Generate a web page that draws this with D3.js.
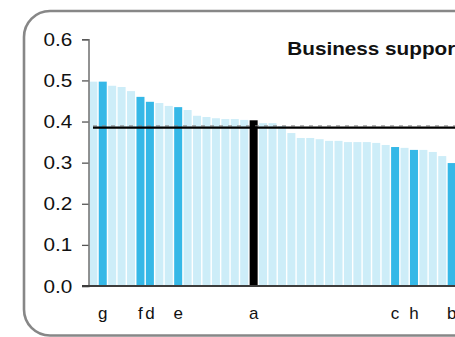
<!DOCTYPE html>
<html><head><meta charset="utf-8">
<script src="https://cdn.jsdelivr.net/npm/d3@7"></script>
<style>html,body{margin:0;padding:0;background:#fff;overflow:hidden}</style>
</head><body><svg id="c" width="455" height="337"></svg>
<script>
// ---- data ----
const categories = d3.range(39).map(i => "r" + i);
const values = [0.497,0.497,0.487,0.484,0.474,0.460,0.448,0.445,0.438,0.435,
                0.428,0.414,0.411,0.408,0.406,0.406,0.404,0.403,0.396,0.396,
                0.389,0.372,0.360,0.360,0.357,0.353,0.353,0.350,0.350,0.350,
                0.348,0.343,0.338,0.336,0.331,0.331,0.326,0.316,0.299];
const kinds = ["l","d","l","l","l","d","d","l","l","d",
               "l","l","l","l","l","l","l","k","l","l",
               "l","l","l","l","l","l","l","l","l","l",
               "l","l","d","l","d","l","l","l","d"];
const barLabels = ["","g","","","","f","d","","","e",
                   "","","","","","","","a","","",
                   "","","","","","","","","","",
                   "","","c","","h","","","","b"];
const yTicks = [0,0.1,0.2,0.3,0.4,0.5,0.6];
const refValue = 0.386;
const title = "Business support services";

// ---- drawing ----
const svg = d3.select("#c");
const colors = {l:"#cdedf8", d:"#35b8e7", k:"#000000"};
const x = d3.scaleBand().domain(categories).range([88.6, 456.4]).paddingInner(0.15).paddingOuter(0.075);
const y = d3.scaleLinear().domain([0, 0.6]).range([286, 39.3]);
const sx = 1.12;

// border
svg.append("rect").attr("x",24).attr("y",11).attr("width",520).attr("height",324.5)
  .attr("rx",26).attr("ry",26).attr("fill","none").attr("stroke","#878787").attr("stroke-width",2.6);

// bars
svg.append("g").selectAll("rect").data(categories).join("rect")
  .attr("x", d => x(d)).attr("width", x.bandwidth())
  .attr("y", (d,i) => y(values[i])).attr("height", (d,i) => y(0) - y(values[i]))
  .attr("fill", (d,i) => colors[kinds[i]]);

// y axis
const ya = svg.append("g").attr("transform","translate(88.5,0)")
  .call(d3.axisLeft(y).tickValues(yTicks).tickFormat(d3.format(".1f")).tickSize(6.5).tickPadding(10));
ya.select(".domain").attr("stroke","#6f6f6f").attr("stroke-width",1.5);
ya.selectAll(".tick line").attr("stroke","#555").attr("stroke-width",1.3);
ya.selectAll(".tick text").attr("font-family","'Liberation Sans', Arial, sans-serif")
  .attr("font-size","18.5px").attr("fill","#111").attr("dy",null)
  .attr("x", -16.3/sx).attr("y", 6).attr("transform", `scale(${sx},1)`);

// x axis baseline
svg.append("line").attr("x1",82).attr("x2",455).attr("y1",y(0)).attr("y2",y(0))
  .attr("stroke","#3d3d3d").attr("stroke-width",2);

// reference line
svg.append("line").attr("x1",93).attr("x2",455).attr("y1",y(refValue)-1.4).attr("y2",y(refValue)-1.4)
  .attr("stroke","#8a8a8a").attr("stroke-width",1).attr("stroke-dasharray","4,5");
svg.append("line").attr("x1",93).attr("x2",455).attr("y1",y(refValue)+0.3).attr("y2",y(refValue)+0.3)
  .attr("stroke","#000").attr("stroke-width",2.4);

// bar labels
svg.append("g").selectAll("text").data(categories).join("text")
  .attr("x", d => x(d) + x.bandwidth()/2).attr("y", 319)
  .attr("text-anchor","middle").attr("font-family","'Liberation Sans', Arial, sans-serif")
  .attr("font-size","17px").attr("fill","#111")
  .text((d,i) => barLabels[i]);

// title
svg.append("text").attr("transform",`translate(287.3,55) scale(${sx},1)`)
  .attr("font-family","'Liberation Sans', Arial, sans-serif").attr("font-weight","bold")
  .attr("font-size","18.5px").attr("fill","#111").text(title);
</script>
</body></html>
